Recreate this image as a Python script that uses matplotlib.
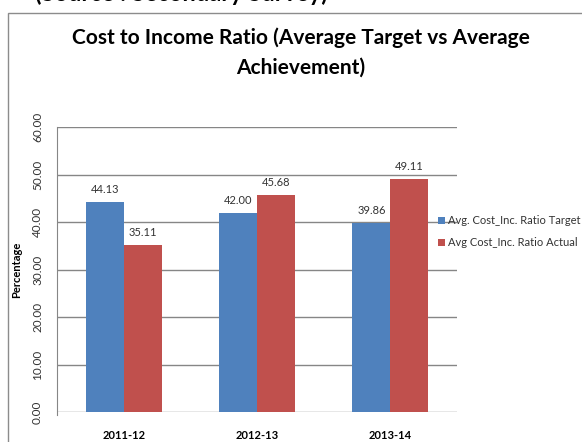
import numpy as np
import matplotlib
matplotlib.use("Agg")
import matplotlib.pyplot as plt
from matplotlib.patches import Rectangle

years = ["2011-12", "2012-13", "2013-14"]
target = [44.13, 42.00, 39.86]
actual = [35.11, 45.68, 49.11]
series_names = ["Avg. Cost_Inc. Ratio Target", "Avg Cost_Inc. Ratio Actual"]
y_ticks = [0, 10, 20, 30, 40, 50, 60]

plt.rcParams['font.family'] = ['Lato', 'DejaVu Sans']

W, H = 582, 442
fig = plt.figure(figsize=(W / 100, H / 100), dpi=100)

# outer chart frame (runs off the right and bottom edges)
fig.patches.append(Rectangle((8 / W, -0.2), 1.2, 1.2 - 13 / H,
                             transform=fig.transFigure, fill=False,
                             edgecolor="#8c8c8c", linewidth=1.0))

# cut-off heading above the chart
fig.text(35 / W, 1 - 1 / H, "(Source : Secondary Survey)", fontsize=17,
         fontweight="bold", ha="left", va="baseline", color="black")

fig.text(301 / W, 1 - 38 / H, "Cost to Income Ratio (Average Target vs Average",
         fontsize=15, fontweight="bold", ha="center", va="center")
fig.text(301 / W, 1 - 68 / H, "Achievement)",
         fontsize=15, fontweight="bold", ha="center", va="center")

ax = fig.add_axes([57 / W, 1 - 412 / H, 400 / W, 285 / H])

x = np.arange(len(years))
w = 0.285
b1 = ax.bar(x - w / 2, target, w, color="#4F81BD", label=series_names[0], zorder=2)
b2 = ax.bar(x + w / 2, actual, w, color="#C0504D", label=series_names[1], zorder=2)

for bars, vals in ((b1, target), (b2, actual)):
    for r, v in zip(bars, vals):
        ax.annotate(f"{v:.2f}", (r.get_x() + r.get_width() / 2, v),
                    xytext=(0, 5), textcoords="offset points",
                    ha="center", va="bottom", fontsize=8, color="#333333")

ax.set_xlim(-0.5, 2.5)
ax.set_ylim(0, 60)
ax.set_yticks(y_ticks)
ax.set_yticklabels([f"{t:.2f}" for t in y_ticks], rotation=90, va="center",
                   fontsize=8.5, color="#333333")
ax.set_xticks(x)
ax.set_xticklabels(years, fontsize=8, fontweight="bold")
ax.tick_params(axis="x", length=0, pad=13)
ax.tick_params(axis="y", length=0, pad=10)
ax.grid(axis="y", color="#868686", linewidth=1.0, zorder=0)

for s in ["top", "right", "bottom"]:
    ax.spines[s].set_visible(False)
ax.spines["left"].set_color("#868686")
ax.spines["left"].set_bounds(-0.6, 60)
ax.set_ylabel("Percentage", fontsize=8, fontweight="bold", labelpad=7)

ax.legend(loc="upper left", bbox_to_anchor=(438 / W, 1 - 215 / H),
          bbox_transform=fig.transFigure, frameon=False, fontsize=8,
          handlelength=0.6, handleheight=0.6, handletextpad=0.3,
          labelspacing=1.0, borderpad=0, borderaxespad=0, labelcolor="#333333")

plt.savefig("out.png", dpi=100)
